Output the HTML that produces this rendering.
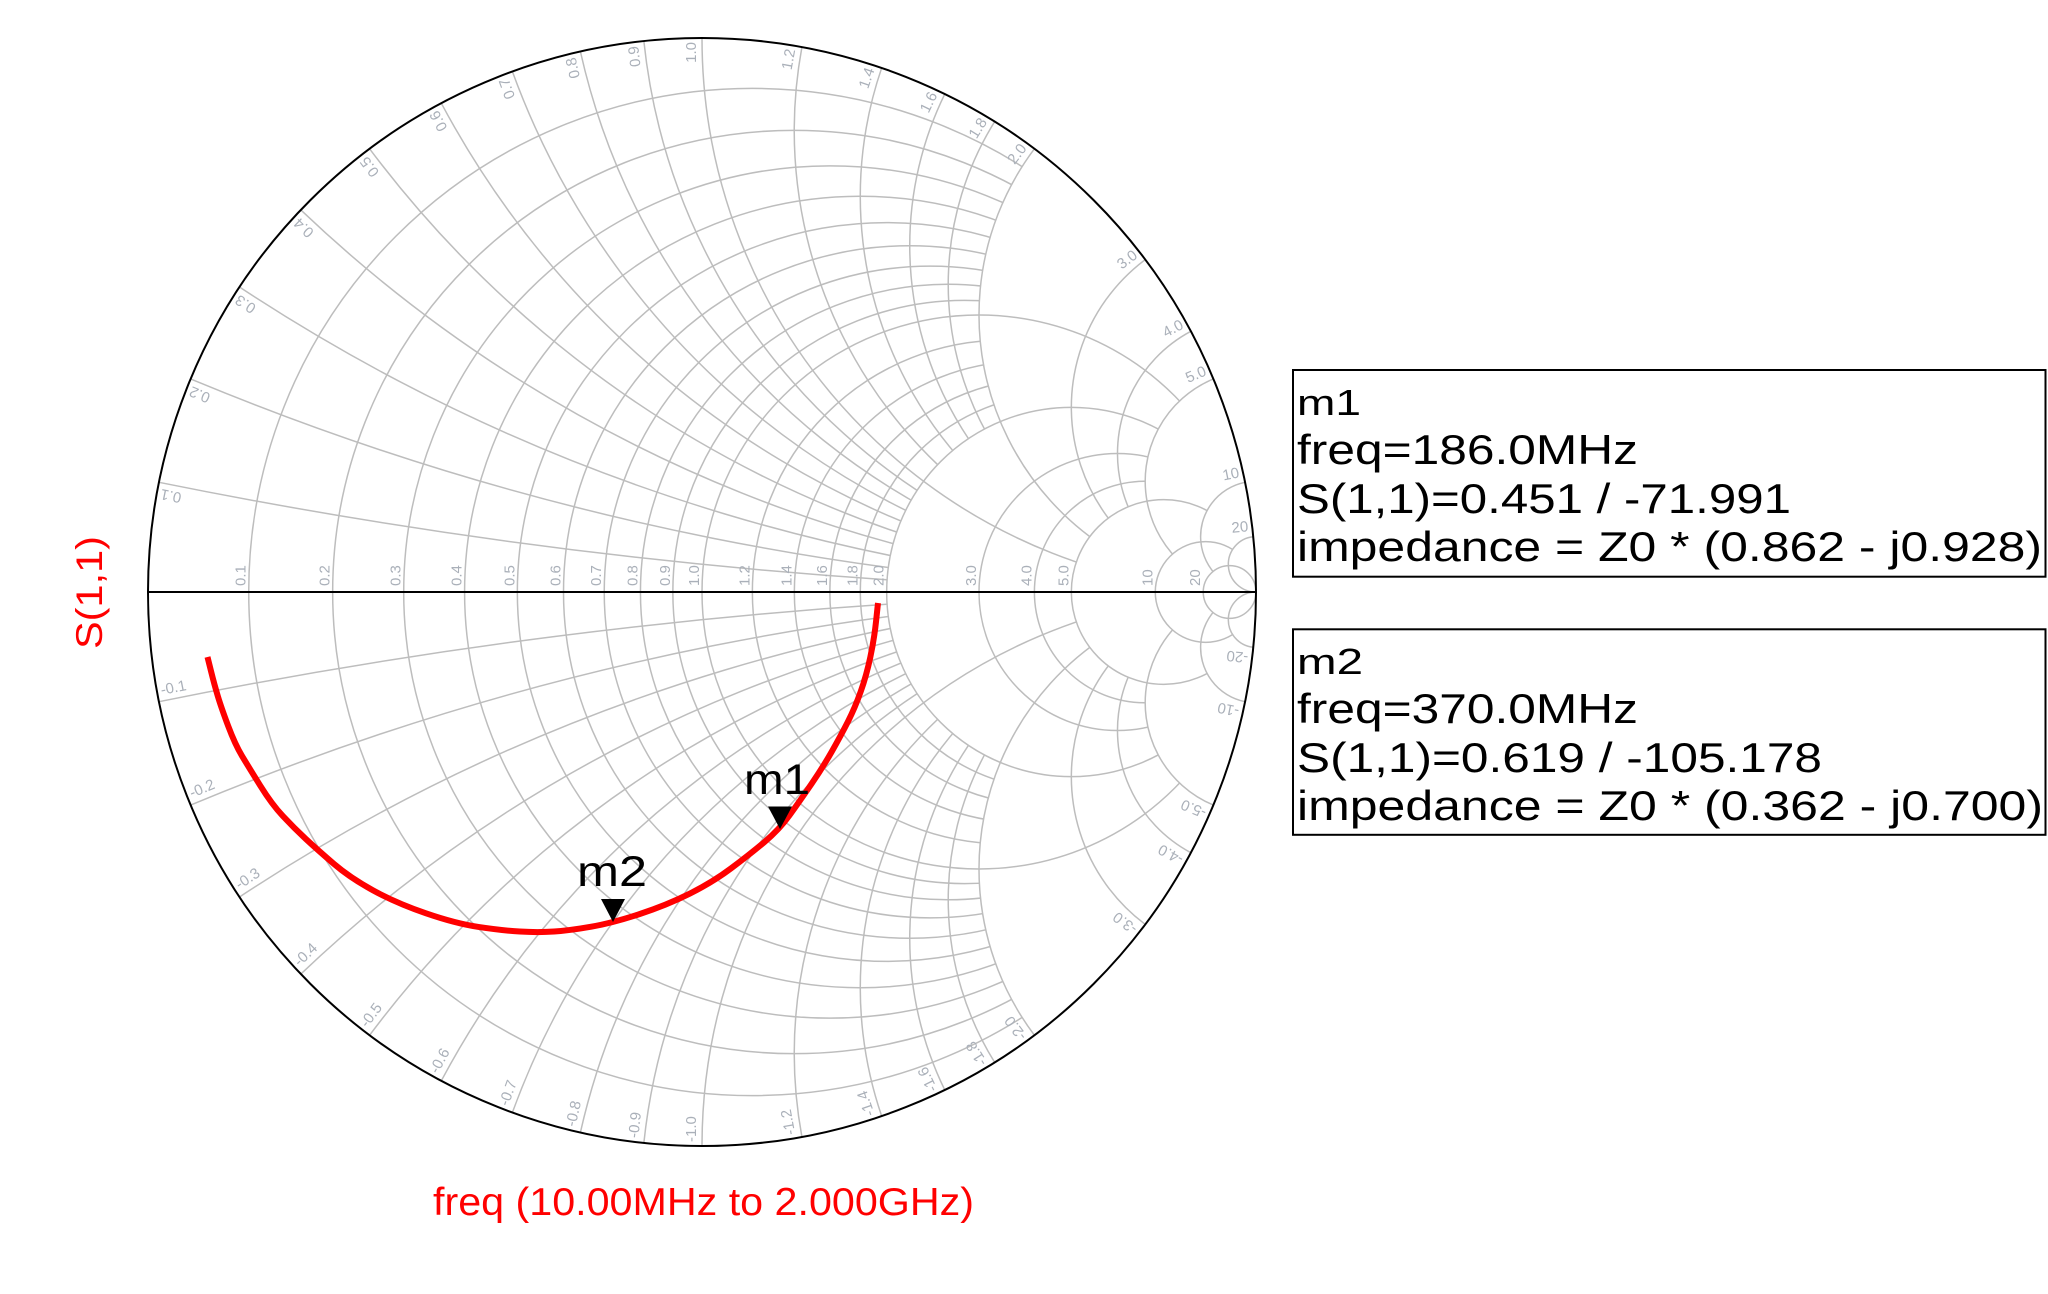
<!DOCTYPE html>
<html>
<head>
<meta charset="utf-8">
<style>
html,body{margin:0;padding:0;background:#ffffff;width:2048px;height:1294px;overflow:hidden}
svg{display:block;overflow:hidden}
</style>
</head>
<body>
<svg width="2048" height="1294" viewBox="0 0 2048 1294" xmlns="http://www.w3.org/2000/svg" font-family="'Liberation Sans', Arial, sans-serif">
<defs>
  <mask id="mr2" maskUnits="userSpaceOnUse" x="0" y="0" width="2048" height="1294">
    <rect x="0" y="0" width="2048" height="1294" fill="#fff"/>
    <circle cx="1256" cy="315" r="277" fill="#000"/>
    <circle cx="1256" cy="869" r="277" fill="#000"/>
  </mask>
  <mask id="mr5" maskUnits="userSpaceOnUse" x="0" y="0" width="2048" height="1294">
    <rect x="0" y="0" width="2048" height="1294" fill="#fff"/>
    <circle cx="1256" cy="481.2" r="110.8" fill="#000"/>
    <circle cx="1256" cy="702.8" r="110.8" fill="#000"/>
  </mask>
  <mask id="mr10" maskUnits="userSpaceOnUse" x="0" y="0" width="2048" height="1294">
    <rect x="0" y="0" width="2048" height="1294" fill="#fff"/>
    <circle cx="1256" cy="536.6" r="55.4" fill="#000"/>
    <circle cx="1256" cy="647.4" r="55.4" fill="#000"/>
  </mask>
  <mask id="mr20" maskUnits="userSpaceOnUse" x="0" y="0" width="2048" height="1294">
    <rect x="0" y="0" width="2048" height="1294" fill="#fff"/>
    <circle cx="1256" cy="564.3" r="27.7" fill="#000"/>
    <circle cx="1256" cy="619.7" r="27.7" fill="#000"/>
  </mask>
  <mask id="mx2" maskUnits="userSpaceOnUse" x="0" y="0" width="2048" height="1294">
    <rect x="0" y="0" width="2048" height="1294" fill="#000"/>
    <circle cx="702" cy="592" r="554" fill="#fff"/>
    <circle cx="1071.33" cy="592" r="184.67" fill="#000"/>
  </mask>
  <mask id="mx5" maskUnits="userSpaceOnUse" x="0" y="0" width="2048" height="1294">
    <rect x="0" y="0" width="2048" height="1294" fill="#000"/>
    <circle cx="702" cy="592" r="554" fill="#fff"/>
    <circle cx="1163.67" cy="592" r="92.33" fill="#000"/>
  </mask>
  <mask id="mx10" maskUnits="userSpaceOnUse" x="0" y="0" width="2048" height="1294">
    <rect x="0" y="0" width="2048" height="1294" fill="#000"/>
    <circle cx="702" cy="592" r="554" fill="#fff"/>
    <circle cx="1205.64" cy="592" r="50.36" fill="#000"/>
  </mask>
  <mask id="mx20" maskUnits="userSpaceOnUse" x="0" y="0" width="2048" height="1294">
    <rect x="0" y="0" width="2048" height="1294" fill="#000"/>
    <circle cx="702" cy="592" r="554" fill="#fff"/>
    <circle cx="1229.62" cy="592" r="26.38" fill="#000"/>
  </mask>
  <mask id="mxd" maskUnits="userSpaceOnUse" x="0" y="0" width="2048" height="1294">
    <rect x="0" y="0" width="2048" height="1294" fill="#000"/>
    <circle cx="702" cy="592" r="554" fill="#fff"/>
  </mask>
</defs>

<!-- Grid -->
<g fill="none" stroke="#bdbdbd" stroke-width="1.5">
  <g mask="url(#mr2)">
    <circle cx="752.36" cy="592" r="503.64"/>
    <circle cx="794.33" cy="592" r="461.67"/>
    <circle cx="829.85" cy="592" r="426.15"/>
    <circle cx="860.29" cy="592" r="395.71"/>
    <circle cx="886.67" cy="592" r="369.33"/>
    <circle cx="909.75" cy="592" r="346.25"/>
    <circle cx="930.12" cy="592" r="325.88"/>
    <circle cx="948.22" cy="592" r="307.78"/>
    <circle cx="964.42" cy="592" r="291.58"/>
    <circle cx="1004.18" cy="592" r="251.82"/>
    <circle cx="1025.17" cy="592" r="230.83"/>
    <circle cx="1042.92" cy="592" r="213.08"/>
    <circle cx="1058.14" cy="592" r="197.86"/>
  </g>
  <g mask="url(#mr5)">
    <circle cx="979" cy="592" r="277"/>
    <circle cx="1071.33" cy="592" r="184.67"/>
    <circle cx="1117.5" cy="592" r="138.5"/>
    <circle cx="1145.2" cy="592" r="110.8"/>
  </g>
  <g mask="url(#mr10)">
    <circle cx="1163.67" cy="592" r="92.33"/>
  </g>
  <g mask="url(#mr20)">
    <circle cx="1205.64" cy="592" r="50.36"/>
  </g>
  <circle cx="1229.62" cy="592" r="26.38"/>

  <g mask="url(#mx2)">
    <path d="M158.97,482.30 A5540,5540 0 0 0 1256,592"/>
    <path d="M158.97,701.70 A5540,5540 0 0 1 1256,592"/>
    <path d="M190.61,378.92 A2770,2770 0 0 0 1256,592"/>
    <path d="M190.61,805.08 A2770,2770 0 0 1 1256,592"/>
    <path d="M239.49,287.05 A1846.67,1846.67 0 0 0 1256,592"/>
    <path d="M239.49,896.95 A1846.67,1846.67 0 0 1 1256,592"/>
    <path d="M300.83,209.93 A1385,1385 0 0 0 1256,592"/>
    <path d="M300.83,974.07 A1385,1385 0 0 1 1256,592"/>
    <path d="M369.6,148.8 A1108,1108 0 0 0 1256,592"/>
    <path d="M369.6,1035.2 A1108,1108 0 0 1 1256,592"/>
    <path d="M441.29,103.18 A923.33,923.33 0 0 0 1256,592"/>
    <path d="M441.29,1080.82 A923.33,923.33 0 0 1 1256,592"/>
    <path d="M512.38,71.46 A791.43,791.43 0 0 0 1256,592"/>
    <path d="M512.38,1112.54 A791.43,791.43 0 0 1 1256,592"/>
    <path d="M580.39,51.51 A692.5,692.5 0 0 0 1256,592"/>
    <path d="M580.39,1132.49 A692.5,692.5 0 0 1 1256,592"/>
    <path d="M643.85,41.06 A615.56,615.56 0 0 0 1256,592"/>
    <path d="M643.85,1142.94 A615.56,615.56 0 0 1 1256,592"/>
    <path d="M801.90,47.08 A461.67,461.67 0 0 0 1256,592"/>
    <path d="M801.90,1136.92 A461.67,461.67 0 0 1 1256,592"/>
    <path d="M881.67,67.94 A395.71,395.71 0 0 0 1256,592"/>
    <path d="M881.67,1116.06 A395.71,395.71 0 0 1 1256,592"/>
    <path d="M944.76,94.02 A346.25,346.25 0 0 0 1256,592"/>
    <path d="M944.76,1089.98 A346.25,346.25 0 0 1 1256,592"/>
    <path d="M994.68,121.62 A307.78,307.78 0 0 0 1256,592"/>
    <path d="M994.68,1062.38 A307.78,307.78 0 0 1 1256,592"/>
  </g>
  <g mask="url(#mx5)">
    <path d="M702,38 A554,554 0 0 0 1256,592"/>
    <path d="M702,1146 A554,554 0 0 1 1256,592"/>
    <path d="M1034.4,148.8 A277,277 0 0 0 1256,592"/>
    <path d="M1034.4,1035.2 A277,277 0 0 1 1256,592"/>
    <path d="M1145.2,259.6 A184.67,184.67 0 0 0 1256,592"/>
    <path d="M1145.2,924.4 A184.67,184.67 0 0 1 1256,592"/>
    <path d="M1190.82,331.29 A138.5,138.5 0 0 0 1256,592"/>
    <path d="M1190.82,852.71 A138.5,138.5 0 0 1 1256,592"/>
  </g>
  <g mask="url(#mx10)">
    <path d="M1213.39,378.92 A110.8,110.8 0 0 0 1256,592"/>
    <path d="M1213.39,805.08 A110.8,110.8 0 0 1 1256,592"/>
  </g>
  <g mask="url(#mx20)">
    <path d="M1245.03,482.30 A55.4,55.4 0 0 0 1256,592"/>
    <path d="M1245.03,701.70 A55.4,55.4 0 0 1 1256,592"/>
  </g>
  <g mask="url(#mxd)">
    <path d="M1253.24,536.74 A27.7,27.7 0 0 0 1256,592"/>
    <path d="M1253.24,647.26 A27.7,27.7 0 0 1 1256,592"/>
  </g>
</g>

<!-- Axis and outer circle -->
<line x1="148" y1="592" x2="1256" y2="592" stroke="#000" stroke-width="2"/>
<circle cx="702" cy="592" r="554" fill="none" stroke="#000" stroke-width="2"/>

<!-- Resistance labels -->
<g font-size="15" fill="#aab0b9">
  <text transform="translate(245.7,586) rotate(-90)">0.1</text>
  <text transform="translate(329.7,586) rotate(-90)">0.2</text>
  <text transform="translate(400.7,586) rotate(-90)">0.3</text>
  <text transform="translate(461.6,586) rotate(-90)">0.4</text>
  <text transform="translate(514.3,586) rotate(-90)">0.5</text>
  <text transform="translate(560.5,586) rotate(-90)">0.6</text>
  <text transform="translate(601.2,586) rotate(-90)">0.7</text>
  <text transform="translate(637.4,586) rotate(-90)">0.8</text>
  <text transform="translate(669.8,586) rotate(-90)">0.9</text>
  <text transform="translate(699,586) rotate(-90)">1.0</text>
  <text transform="translate(749.4,586) rotate(-90)">1.2</text>
  <text transform="translate(791.3,586) rotate(-90)">1.4</text>
  <text transform="translate(826.9,586) rotate(-90)">1.6</text>
  <text transform="translate(857.3,586) rotate(-90)">1.8</text>
  <text transform="translate(883.7,586) rotate(-90)">2.0</text>
  <text transform="translate(976,586) rotate(-90)">3.0</text>
  <text transform="translate(1031.4,586) rotate(-90)">4.0</text>
  <text transform="translate(1068.3,586) rotate(-90)">5.0</text>
  <text transform="translate(1152.3,586) rotate(-90)">10</text>
  <text transform="translate(1200.2,586) rotate(-90)">20</text>
</g>

<!-- Reactance labels, upper -->
<g font-size="15" fill="#aab0b9" text-anchor="end">
  <text transform="translate(162.89,483.09) rotate(-168.58)" y="-6">0.1</text>
  <text transform="translate(194.31,380.46) rotate(-157.38)" y="-6">0.2</text>
  <text transform="translate(242.83,289.25) rotate(-146.60)" y="-6">0.3</text>
  <text transform="translate(303.72,212.69) rotate(-136.40)" y="-6">0.4</text>
  <text transform="translate(372,152) rotate(-126.87)" y="-6">0.5</text>
  <text transform="translate(443.18,106.71) rotate(-118.07)" y="-6">0.6</text>
  <text transform="translate(513.74,75.22) rotate(-110.02)" y="-6">0.7</text>
  <text transform="translate(581.27,55.41) rotate(-102.68)" y="-6">0.8</text>
  <text transform="translate(644.27,45.04) rotate(-96.03)" y="-6">0.9</text>
  <text transform="translate(702,42) rotate(-90)" y="-6">1.0</text>
  <text transform="translate(801.18,51.02) rotate(-79.61)" y="-6">1.2</text>
  <text transform="translate(880.38,71.73) rotate(-71.08)" y="-6">1.4</text>
  <text transform="translate(943.01,97.62) rotate(-64.01)" y="-6">1.6</text>
  <text transform="translate(992.57,125.02) rotate(-58.11)" y="-6">1.8</text>
  <text transform="translate(1032,152) rotate(-53.13)" y="-6">2.0</text>
  <text transform="translate(1142,262) rotate(-36.87)" y="-6">3.0</text>
  <text transform="translate(1187.29,333.18) rotate(-28.07)" y="-6">4.0</text>
  <text transform="translate(1209.69,380.46) rotate(-22.62)" y="-6">5.0</text>
  <text transform="translate(1241.11,483.09) rotate(-11.42)" y="-6">10</text>
  <text transform="translate(1249.26,537.14) rotate(-5.72)" y="-6">20</text>
</g>

<!-- Reactance labels, lower -->
<g font-size="15" fill="#aab0b9">
  <text transform="translate(162.89,700.91) rotate(-11.42)" y="-6">-0.1</text>
  <text transform="translate(194.31,803.54) rotate(-22.62)" y="-6">-0.2</text>
  <text transform="translate(242.83,894.75) rotate(-33.40)" y="-6">-0.3</text>
  <text transform="translate(303.72,971.31) rotate(-43.60)" y="-6">-0.4</text>
  <text transform="translate(372,1032) rotate(-53.13)" y="-6">-0.5</text>
  <text transform="translate(443.18,1077.29) rotate(-61.93)" y="-6">-0.6</text>
  <text transform="translate(513.74,1108.78) rotate(-69.98)" y="-6">-0.7</text>
  <text transform="translate(581.27,1128.59) rotate(-77.32)" y="-6">-0.8</text>
  <text transform="translate(644.27,1138.96) rotate(-83.97)" y="-6">-0.9</text>
  <text transform="translate(702,1142) rotate(-90)" y="-6">-1.0</text>
  <text transform="translate(801.18,1132.98) rotate(-100.39)" y="-6">-1.2</text>
  <text transform="translate(880.38,1112.27) rotate(-108.92)" y="-6">-1.4</text>
  <text transform="translate(943.01,1086.38) rotate(-115.99)" y="-6">-1.6</text>
  <text transform="translate(992.57,1058.98) rotate(-121.89)" y="-6">-1.8</text>
  <text transform="translate(1032,1032) rotate(-126.87)" y="-6">-2.0</text>
  <text transform="translate(1142,922) rotate(-143.13)" y="-6">-3.0</text>
  <text transform="translate(1187.29,850.82) rotate(-151.93)" y="-6">-4.0</text>
  <text transform="translate(1209.69,803.54) rotate(-157.38)" y="-6">-5.0</text>
  <text transform="translate(1241.11,700.91) rotate(-168.58)" y="-6">-10</text>
  <text transform="translate(1249.26,646.86) rotate(-174.28)" y="-6">-20</text>
</g>

<!-- S(1,1) trace -->
<path fill="none" stroke="#ff0000" stroke-width="6" stroke-linejoin="round"
  d="M207.5,657 L210.95,670.9 Q214.4,684.8 217.85,696.25 Q221.3,707.7 228.2,726.1 Q235.1,744.5 242,755.95 Q248.9,767.4 260.35,785.8 Q271.8,804.2 282.9,816.1 Q294,828 305.85,839 Q317.7,850 333.8,863.8 Q349.9,877.6 372.85,890.25 Q395.8,902.9 425.65,913.2 Q455.5,923.5 478.45,926.95 Q501.4,930.4 519.75,931.55 Q538.1,932.7 554.2,931.55 Q570.3,930.4 591.25,926.7 Q612.2,923 639.45,914.1 Q666.7,905.2 689.65,893.7 Q712.6,882.2 730.95,868.45 Q749.3,854.7 764.3,842.15 Q779.3,829.6 789.55,815.3 Q799.8,801 811.3,784.2 Q822.8,767.4 831.9,751.35 Q841,735.3 848,721.5 Q855,707.7 860.7,691.65 Q866.4,675.6 870.3,657.25 Q874.2,638.9 876.1,620.95 L878,603"/>

<!-- Markers -->
<polygon points="768,806.5 792,806.5 780,829" fill="#000"/>
<polygon points="601,899 625,899 613,922" fill="#000"/>
<text x="744" y="794" font-size="43" fill="#000" textLength="66" lengthAdjust="spacingAndGlyphs">m1</text>
<text x="577" y="886" font-size="43" fill="#000" textLength="70" lengthAdjust="spacingAndGlyphs">m2</text>

<!-- Axis titles -->
<text x="433" y="1215" font-size="39" fill="#ff0000" textLength="541" lengthAdjust="spacingAndGlyphs">freq (10.00MHz to 2.000GHz)</text>
<text transform="translate(102,649) rotate(-90)" font-size="37" fill="#ff0000" textLength="113" lengthAdjust="spacingAndGlyphs">S(1,1)</text>

<!-- Legend boxes -->
<rect x="1293" y="370" width="752.5" height="206.7" fill="#fff" stroke="#000" stroke-width="2"/>
<rect x="1293" y="629.3" width="752.5" height="205.5" fill="#fff" stroke="#000" stroke-width="2"/>

<g fill="#000">
  <text x="1297" y="415" font-size="36" textLength="64" lengthAdjust="spacingAndGlyphs">m1</text>
  <text x="1297" y="464" font-size="42" textLength="341" lengthAdjust="spacingAndGlyphs">freq=186.0MHz</text>
  <text x="1297" y="513" font-size="42" textLength="494" lengthAdjust="spacingAndGlyphs">S(1,1)=0.451 / -71.991</text>
  <text x="1297" y="561" font-size="42" textLength="745" lengthAdjust="spacingAndGlyphs">impedance = Z0 * (0.862 - j0.928)</text>

  <text x="1297" y="674" font-size="36" textLength="66" lengthAdjust="spacingAndGlyphs">m2</text>
  <text x="1297" y="723" font-size="42" textLength="341" lengthAdjust="spacingAndGlyphs">freq=370.0MHz</text>
  <text x="1297" y="772" font-size="42" textLength="525" lengthAdjust="spacingAndGlyphs">S(1,1)=0.619 / -105.178</text>
  <text x="1297" y="820" font-size="42" textLength="746" lengthAdjust="spacingAndGlyphs">impedance = Z0 * (0.362 - j0.700)</text>
</g>
</svg>
</body>
</html>
